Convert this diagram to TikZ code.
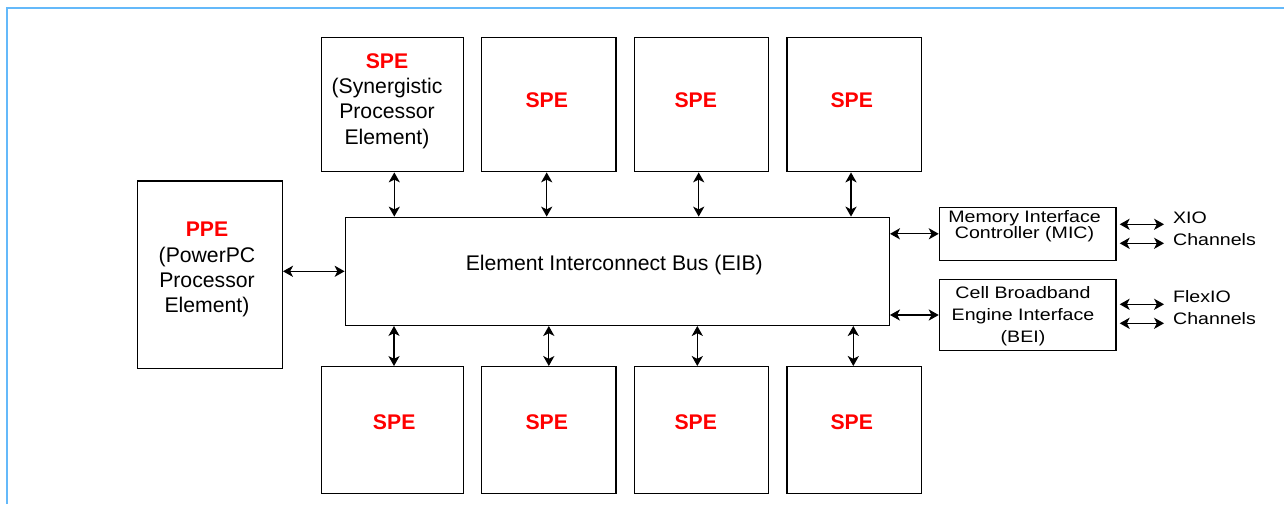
\documentclass[tikz,border=0pt]{standalone}
\usepackage{fontspec}
\setmainfont{Liberation Sans}
\newfontfamily\widefont[FakeStretch=1.18]{Liberation Sans}
\usetikzlibrary{arrows.meta}
\definecolor{framecol}{RGB}{100,185,250}
\definecolor{spered}{RGB}{255,0,0}
\newcommand{\redlbl}[1]{\textcolor{spered}{\bfseries #1}}
\begin{document}
\begin{tikzpicture}[x=0.5pt,y=-0.5pt,
  box/.style={draw=black, line width=0.7pt, inner sep=0pt},
  txt/.style={inner sep=0pt, align=center, font=\fontsize{10.6}{12.6}\selectfont},
  rtxt/.style={inner sep=0pt, align=center, font=\widefont\fontsize{8.3}{11}\selectfont},
  biarrow/.style={draw=black, line width=0.6pt,
    {Stealth[length=5pt,width=5.6pt,inset=1.4pt]}-{Stealth[length=5pt,width=5.6pt,inset=1.4pt]}}]
\useasboundingbox (0,0) rectangle (1284,504);
% frame
\draw[framecol, line width=1pt] (6.7,504) -- (6.7,7.5) -- (1284,7.5);
% top SPEs
\node[box, minimum width=71pt, minimum height=67.1pt] (t1) at (392.3,104.6) {};
\node[box, minimum width=67.2pt, minimum height=67.1pt] (t2) at (548.8,104.6) {};
\node[box, minimum width=67.2pt, minimum height=67.1pt] (t3) at (701.5,104.6) {};
\node[box, minimum width=67.3pt, minimum height=67.1pt] (t4) at (854.3,104.6) {};
% bottom SPEs
\node[box, minimum width=71pt, minimum height=63.3pt] (b1) at (392.3,430) {};
\node[box, minimum width=67.2pt, minimum height=63.3pt] (b2) at (548.8,430) {};
\node[box, minimum width=67.2pt, minimum height=63.3pt] (b3) at (701.5,430) {};
\node[box, minimum width=67.3pt, minimum height=63.3pt] (b4) at (854.3,430) {};
% PPE, EIB, MIC, BEI
\node[box, minimum width=72.5pt, minimum height=93.7pt] (ppe) at (209.8,274.7) {};
\node[box, minimum width=272pt, minimum height=54pt] (eib) at (617.3,271.3) {};
\node[box, minimum width=88.3pt, minimum height=26.5pt] (mic) at (1027.7,233.8) {};
\node[box, minimum width=88.3pt, minimum height=35.7pt] (bei) at (1027.7,315) {};
% labels
\node[txt] (t1l) at (387,101) {\redlbl{SPE}\\(Synergistic\\Processor\\Element)};
\node[txt] (t2l) at (546.8,100) {\redlbl{SPE}};
\node[txt] (t3l) at (695.8,100) {\redlbl{SPE}};
\node[txt] (t4l) at (851.8,100) {\redlbl{SPE}};
\node[txt] (b1l) at (394.2,421.7) {\redlbl{SPE}};
\node[txt] (b2l) at (546.8,421.7) {\redlbl{SPE}};
\node[txt] (b3l) at (695.8,421.7) {\redlbl{SPE}};
\node[txt] (b4l) at (851.8,421.7) {\redlbl{SPE}};
\node[txt] (ppel) at (207,269.5) {\redlbl{PPE}\\(PowerPC\\Processor\\Element)};
\node[txt] (eibl) at (614.3,265.5) {Element Interconnect Bus (EIB)};
\node[rtxt, font=\widefont\fontsize{8.3}{7.8}\selectfont] (micl) at (1024.5,226.2) {Memory Interface\\Controller (MIC)};
\node[rtxt] (beil) at (1023,315.7) {Cell Broadband\\Engine Interface\\(BEI)};
\node[rtxt, align=left, anchor=west] (xiol) at (1172.7,229) {XIO\\Channels};
\node[rtxt, align=left, anchor=west] (flexl) at (1172.7,307.3) {FlexIO\\Channels};
% free ends of channel arrows
\coordinate (x1) at (1164,224.3);
\coordinate (x2) at (1164,243.3);
\coordinate (f1) at (1164,304.3);
\coordinate (f2) at (1164,323.3);
% SPE <-> EIB
\draw[biarrow] ([xshift=1pt]t1.south) -- ([xshift=1pt]t1.south |- eib.north);
\draw[biarrow] ([xshift=-1.05pt]t2.south) -- ([xshift=-1.05pt]t2.south |- eib.north);
\draw[biarrow] ([xshift=-1.4pt]t3.south) -- ([xshift=-1.4pt]t3.south |- eib.north);
\draw[biarrow] ([xshift=-1.65pt]t4.south) -- ([xshift=-1.65pt]t4.south |- eib.north);
\draw[biarrow] ([xshift=0.85pt]b1.north |- eib.south) -- ([xshift=0.85pt]b1.north);
\draw[biarrow] (b2.north |- eib.south) -- (b2.north);
\draw[biarrow] ([xshift=-2.1pt]b3.north |- eib.south) -- ([xshift=-2.1pt]b3.north);
\draw[biarrow] ([xshift=-0.5pt]b4.north |- eib.south) -- ([xshift=-0.5pt]b4.north);
% PPE <-> EIB
\draw[biarrow] (ppe.east |- eib.west) -- (eib.west);
% EIB <-> MIC, BEI
\draw[biarrow] (eib.east |- mic.west) -- (mic.west);
\draw[biarrow] (eib.east |- bei.west) -- (bei.west);
% channels
\draw[biarrow] ([xshift=1.5pt]mic.east |- x1) -- (x1);
\draw[biarrow] ([xshift=1.5pt]mic.east |- x2) -- (x2);
\draw[biarrow] ([xshift=1.5pt]bei.east |- f1) -- (f1);
\draw[biarrow] ([xshift=1.5pt]bei.east |- f2) -- (f2);
\end{tikzpicture}
\end{document}
